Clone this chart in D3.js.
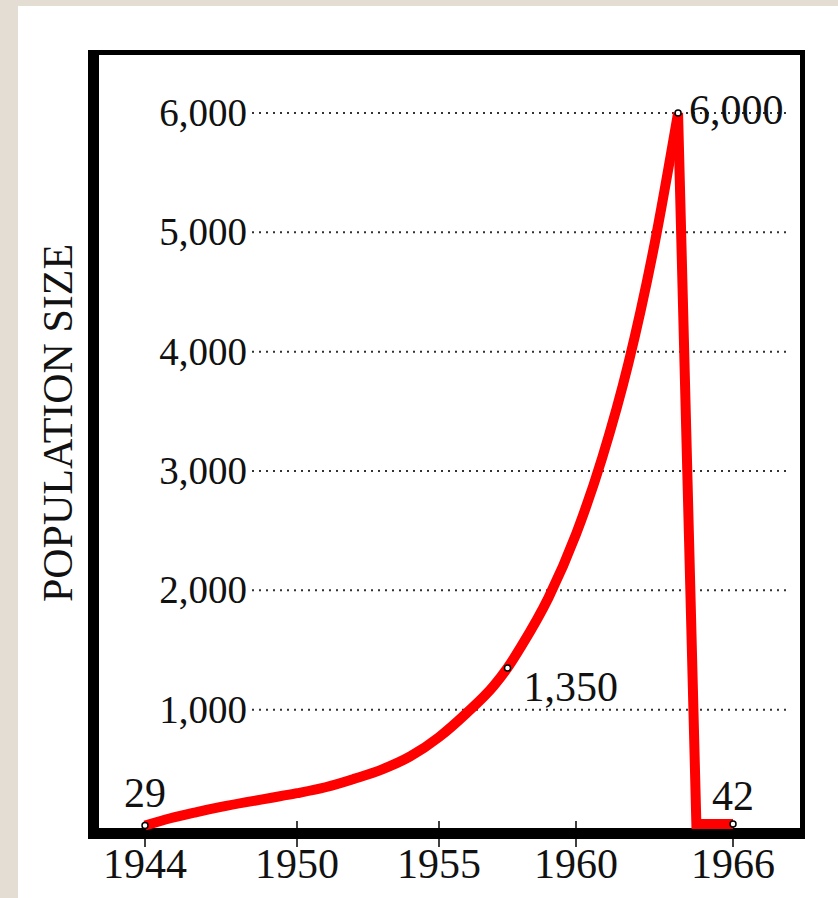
<!DOCTYPE html>
<html><head><meta charset="utf-8">
<script src="https://cdn.jsdelivr.net/npm/d3@7"></script>
<style>
html,body{margin:0;padding:0;background:#e3ddd3;}
svg{display:block;}
</style></head>
<body>
<svg id="chart" width="838" height="898"></svg>
<script>
// ---- data ----
const xTickYears = [1944, 1950, 1955, 1960, 1966];
const yTickValues = [1000, 2000, 3000, 4000, 5000, 6000];
const years = [1944, 1945, 1946, 1947, 1948, 1949, 1950, 1951, 1952, 1953, 1954, 1955, 1956, 1957, 1957.5, 1958, 1959, 1960, 1961, 1962, 1963, 1963.9, 1964.6, 1966];
const population = [29, 90, 140, 185, 225, 262, 300, 350, 420, 500, 610, 770, 970, 1200, 1350, 1530, 1940, 2470, 3110, 3900, 4900, 6000, 42, 42];
const peakYear = 1963.9;
const annotations = [
  {year: 1944, value: 29, label: "29"},
  {year: 1957.5, value: 1350, label: "1,350"},
  {year: 1963.9, value: 6000, label: "6,000"},
  {year: 1966, value: 42, label: "42"}
];
const yTitle = "POPULATION SIZE";

const svg = d3.select("#chart");
const W = 838, H = 898;
svg.append("rect").attr("x",0).attr("y",0).attr("width",W).attr("height",H).attr("fill","#e3ddd3");
svg.append("rect").attr("x",18).attr("y",6).attr("width",W-18).attr("height",H-6).attr("fill","#ffffff");

// frame
const frame = {l:88, t:50, r:805, b:839, il:99, it:55, ir:800, ib:828};
svg.append("rect").attr("x",frame.l).attr("y",frame.t).attr("width",frame.r-frame.l).attr("height",frame.b-frame.t).attr("fill","#000");
svg.append("rect").attr("x",frame.il).attr("y",frame.it).attr("width",frame.ir-frame.il).attr("height",frame.ib-frame.it).attr("fill","#fff");

// scales (hand-drawn original has slightly uneven year spacing)
const x = d3.scaleLinear().domain(xTickYears).range([145, 297, 439, 576, 733]);
const y = d3.scaleLinear().domain([0, 6000]).range([829, 113]);

const serif = "'Liberation Serif','Times New Roman',serif";

// gridlines
svg.append("g").selectAll("line").data(yTickValues).join("line")
  .attr("x1", 252).attr("x2", 790)
  .attr("y1", d => y(d)).attr("y2", d => y(d))
  .attr("stroke", "#333").attr("stroke-width", 2).attr("stroke-dasharray", "2,5");

// y tick labels
svg.append("g").selectAll("text").data(yTickValues).join("text")
  .attr("x", 247).attr("y", d => y(d) + 13)
  .attr("text-anchor", "end")
  .attr("font-family", serif).attr("font-size", 39).attr("fill", "#111")
  .text(d => d3.format(",")(d));

// x ticks
const xt = svg.append("g");
xt.selectAll("line").data(xTickYears).join("line")
  .attr("x1", d => x(d)).attr("x2", d => x(d))
  .attr("y1", 821).attr("y2", 847)
  .attr("stroke", "#000").attr("stroke-width", 1.5);
xt.selectAll("text").data(xTickYears).join("text")
  .attr("x", d => x(d)).attr("y", 878)
  .attr("text-anchor", "middle")
  .attr("font-family", serif).attr("font-size", 42).attr("fill", "#111")
  .text(d => d);

// y title
svg.append("text")
  .attr("transform", "translate(72,423) rotate(-90)")
  .attr("text-anchor", "middle")
  .attr("font-family", serif).attr("font-size", 42).attr("fill", "#111")
  .text(yTitle);

// red line
const pts = years.map((yr, i) => [yr, population[i]]);
const splitIdx = years.indexOf(peakYear);
const curvePart = pts.slice(0, splitIdx + 1);
const tailPart = pts.slice(splitIdx);
svg.append("path")
  .attr("d", d3.line().x(d => x(d[0])).y(d => y(d[1])).curve(d3.curveMonotoneX)(curvePart))
  .attr("fill", "none").attr("stroke", "#ff0000").attr("stroke-width", 10);
svg.append("path")
  .attr("d", d3.line().x(d => x(d[0])).y(d => y(d[1])).curve(d3.curveLinear)(tailPart))
  .attr("fill", "none").attr("stroke", "#ff0000").attr("stroke-width", 10).attr("stroke-linejoin", "miter").attr("stroke-miterlimit", 20);

// points
svg.append("g").selectAll("circle").data(annotations).join("circle")
  .attr("cx", d => x(d.year)).attr("cy", d => y(d.value))
  .attr("r", 3).attr("fill", "#fff").attr("stroke", "#000").attr("stroke-width", 1.5);

// annotation labels
const offs = {"29": [0, -19, "middle"], "1,350": [16, 33, "start"], "6,000": [11, 11, "start"], "42": [-21, -14, "start"]};
svg.append("g").selectAll("text").data(annotations).join("text")
  .attr("x", d => x(d.year) + offs[d.label][0])
  .attr("y", d => y(d.value) + offs[d.label][1])
  .attr("text-anchor", d => offs[d.label][2])
  .attr("font-family", serif).attr("font-size", 42).attr("fill", "#111")
  .text(d => d.label);
</script>
</body></html>
